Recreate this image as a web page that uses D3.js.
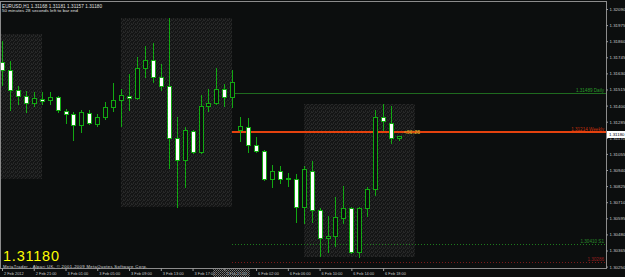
<!DOCTYPE html>
<html>
<head>
<meta charset="utf-8">
<script src="https://cdn.jsdelivr.net/npm/d3@7"></script>
<style>
  html, body { margin: 0; padding: 0; background: #0c0e0e; overflow: hidden; }
  svg { display: block; }
  text { font-family: "Liberation Sans", Arial, sans-serif; }
</style>
</head>
<body>
<div id="graph"></div>
<script>
///////////// data ////////////
// EURUSD H1 bars, 2 Feb 17:00 .. 6 Feb 20:00
var opens  = [1.31708, 1.31651, 1.31508, 1.31472, 1.31422, 1.31444, 1.31437, 1.31458, 1.31358, 1.31337,
              1.31258, 1.31344, 1.31272, 1.31315, 1.31387, 1.31437, 1.31472, 1.31451, 1.31665, 1.31729,
              1.31601, 1.31537, 1.31172, 1.31008, 1.31222, 1.31065, 1.31394, 1.31422, 1.31515, 1.31458,
              1.31229, 1.31247, 1.31122, 1.31079, 1.30879, 1.30936, 1.30879, 1.30879, 1.30679, 1.30936,
              1.30651, 1.30451, 1.30465, 1.30594, 1.30672, 1.30351, 1.30672, 1.30801, 1.31315, 1.31279,
              1.31168]
var highs  = [1.31858, 1.31715, 1.31537, 1.31501, 1.31494, 1.31494, 1.31494, 1.31465, 1.31379, 1.31351,
              1.31365, 1.31365, 1.31337, 1.31429, 1.31558, 1.31515, 1.31629, 1.31744, 1.31829, 1.31844,
              1.31694, 1.32029, 1.31322, 1.31244, 1.31229, 1.31479, 1.31522, 1.31672, 1.31551, 1.31651,
              1.31315, 1.31311, 1.31179, 1.31086, 1.30979, 1.30972, 1.30922, 1.30908, 1.30965, 1.31001,
              1.30672, 1.30615, 1.30744, 1.30829, 1.30679, 1.30679, 1.30822, 1.31372, 1.31415, 1.31394,
              1.31181]
var lows   = [1.31544, 1.31365, 1.31408, 1.31351, 1.31394, 1.31415, 1.31408, 1.31351, 1.31279, 1.31151,
              1.31215, 1.31265, 1.31251, 1.31301, 1.31358, 1.31251, 1.31365, 1.31444, 1.31601, 1.31565,
              1.31508, 1.30951, 1.30679, 1.30822, 1.31058, 1.31062, 1.31358, 1.31408, 1.31394, 1.31387,
              1.31144, 1.31065, 1.31065, 1.30865, 1.30822, 1.30844, 1.30829, 1.30572, 1.30558, 1.30572,
              1.30329, 1.30351, 1.30394, 1.30565, 1.30347, 1.30315, 1.30615, 1.30758, 1.31229, 1.31136,
              1.31157]
var closes = [1.31651, 1.31508, 1.31472, 1.31422, 1.31451, 1.31433, 1.31458, 1.31365, 1.31337, 1.31258,
              1.31351, 1.31279, 1.31322, 1.31387, 1.31437, 1.31479, 1.31451, 1.31665, 1.31729, 1.31601,
              1.31537, 1.31172, 1.31008, 1.31229, 1.31065, 1.31394, 1.31422, 1.31522, 1.31458, 1.31572,
              1.31251, 1.31122, 1.31079, 1.30879, 1.30936, 1.30879, 1.30881, 1.30679, 1.30944, 1.30651,
              1.30451, 1.30465, 1.30601, 1.30672, 1.30351, 1.30672, 1.30801, 1.31315, 1.31287, 1.31168,
              1.31180]

// time axis, one label every 4 bars
var tickIdx    = [0, 4, 8, 12, 16, 20, 24, 28, 32, 36, 40, 44, 48]
var tickLabels = ['2 Feb 2012', '2 Feb 21:00', '3 Feb 01:00', '3 Feb 05:00', '3 Feb 09:00', '3 Feb 13:00',
                  '3 Feb 17:00', '3 Feb 21:00', '6 Feb 02:00', '6 Feb 06:00', '6 Feb 10:00', '6 Feb 14:00',
                  '6 Feb 18:00']

// price axis
var priceTicks = [1.32090, 1.31975, 1.31860, 1.31745, 1.31630, 1.31515, 1.31400, 1.31285, 1.31170,
                  1.31055, 1.30940, 1.30825, 1.30710, 1.30595, 1.30480, 1.30365, 1.30250]

// session boxes (08:00 - 22:00), bar index + high/low
var sessStart = [-9, 15, 38]
var sessEnd   = [5, 29, 52]
var sessHigh  = [1.31908, 1.32029, 1.31415]
var sessLow   = [1.30879, 1.30679, 1.30315]

// horizontal levels
var levelValues = [1.31489, 1.31214, 1.30410, 1.30286]
var levelNames  = ['Daily', 'Weekly', 'S1', '']
var levelFrom   = 29

var symbol = 'EURUSD,H1'
var timeLeft = '50 minutes 28 seconds left to bar end'
var countdown = '<50:28'
var copyright = 'MetaTrader - Alpari UK, \u00a9 2001-2009 MetaQuotes Software Corp.'

///////////// drawing ////////////
var bg = '#0c0e0e'
var green = '#12a812'
var fmt = d3.format('.5f')
var last = closes.length - 1

var x = d3.scaleLinear().domain([0, 50]).range([2, 399])
var y = d3.scaleLinear().domain([1.30240, 1.32140]).range([268, 2])
function cx(i){ return Math.round(x(i)) }
function cy(v){ return Math.round(y(v)) }

var svg = d3.select('#graph').append('svg')
    .attr('width', 625)
    .attr('height', 277)
    .style('background', bg)

var defs = svg.append('defs')

// noisy dark fill of the session boxes
var dots = defs.append('pattern')
    .attr('id', 'dots')
    .attr('width', 4).attr('height', 4)
    .attr('patternUnits', 'userSpaceOnUse')
dots.append('rect').attr('width', 4).attr('height', 4).attr('fill', '#141515')
var dotPix = [[0, 0], [2, 1], [1, 2], [3, 3], [3, 0], [1, 3]]
dotPix.forEach(function(p){
  dots.append('rect').attr('x', p[0]).attr('y', p[1]).attr('width', 1).attr('height', 1).attr('fill', '#272828')
})

var grey = defs.append('pattern')
    .attr('id', 'grey')
    .attr('width', 2).attr('height', 2)
    .attr('patternUnits', 'userSpaceOnUse')
grey.append('rect').attr('width', 1).attr('height', 1).attr('fill', '#7a7a7a')
grey.append('rect').attr('x', 1).attr('y', 1).attr('width', 1).attr('height', 1).attr('fill', '#5e5e5e')

defs.append('clipPath').attr('id', 'clip')
  .append('rect').attr('x', 1).attr('y', 2).attr('width', 605).attr('height', 266)

var plot = svg.append('g').attr('clip-path', 'url(#clip)')

// session boxes
plot.selectAll('rect.sess')
    .data(sessStart)
  .enter().append('rect')
    .attr('class', 'sess')
    .attr('x', function(d){ return cx(d) })
    .attr('width', function(d, i){ return cx(sessEnd[i]) - cx(d) })
    .attr('y', function(d, i){ return cy(sessHigh[i]) })
    .attr('height', function(d, i){ return cy(sessLow[i]) - cy(sessHigh[i]) })
    .attr('fill', 'url(#dots)')

// levels
var levelStroke = ['#1f6a1f', '#e5420e', '#1d7a1d', '#7a1a1a']
var levelWidth  = [1, 2, 1, 1]
var levelDash   = [null, null, '1,2', '1,2']
var levelText   = ['#2a9a2a', '#c8300c', '#2a8a2a', '#9a2020']

plot.selectAll('line.level')
    .data(levelValues)
  .enter().append('line')
    .attr('class', 'level')
    .attr('x1', cx(levelFrom))
    .attr('x2', 606)
    .attr('y1', function(d, i){ return cy(d) + (levelWidth[i] == 1 ? .5 : 0) })
    .attr('y2', function(d, i){ return cy(d) + (levelWidth[i] == 1 ? .5 : 0) })
    .attr('stroke', function(d, i){ return levelStroke[i] })
    .attr('stroke-width', function(d, i){ return levelWidth[i] })
    .attr('stroke-dasharray', function(d, i){ return levelDash[i] })

svg.selectAll('text.level')
    .data(levelValues)
  .enter().append('text')
    .attr('class', 'level')
    .attr('x', 604)
    .attr('y', function(d){ return cy(d) - 1.5 })
    .attr('text-anchor', 'end')
    .style('font-size', '4.6px')
    .attr('fill', function(d, i){ return levelText[i] })
    .text(function(d, i){ return fmt(d) + (levelNames[i] ? ' ' + levelNames[i] : '') })

// candles
var bars = plot.selectAll('g.bar')
    .data(d3.range(opens.length))
  .enter().append('g')
    .attr('class', 'bar')
    .attr('shape-rendering', 'crispEdges')

bars.append('line')
    .attr('x1', function(i){ return cx(i) + .5 })
    .attr('x2', function(i){ return cx(i) + .5 })
    .attr('y1', function(i){ return cy(highs[i]) })
    .attr('y2', function(i){ return cy(lows[i]) + 1 })
    .attr('stroke', green)

bars.append('rect')
    .attr('x', function(i){ return cx(i) - 1.5 })
    .attr('width', 4)
    .attr('y', function(i){ return cy(Math.max(opens[i], closes[i])) + .5 })
    .attr('height', function(i){ return Math.max(1, cy(Math.min(opens[i], closes[i])) - cy(Math.max(opens[i], closes[i]))) })
    .attr('fill', function(i){ return closes[i] >= opens[i] ? bg : '#ffffff' })
    .attr('stroke', green)

// bar countdown next to last candle
svg.append('text')
    .attr('x', cx(last) + 5)
    .attr('y', cy(closes[last]) - 2)
    .attr('fill', '#c9a227')
    .style('font-size', '5px')
    .style('font-weight', 'bold')
    .attr('textLength', 16)
    .text(countdown)

// frame
svg.append('rect')
    .attr('x', .5).attr('y', 1.5)
    .attr('width', 606).attr('height', 267)
    .attr('fill', 'none')
    .attr('stroke', '#8c8c8c')

// price axis
var yAxis = svg.append('g')
    .attr('transform', 'translate(606,0)')
    .call(d3.axisRight(y).tickValues(priceTicks).tickSize(2).tickPadding(1.5).tickFormat(fmt))
yAxis.attr('font-family', null).attr('font-size', null)
yAxis.select('.domain').remove()
yAxis.selectAll('line').attr('stroke', '#9a9a9a')
yAxis.selectAll('text').attr('fill', '#c8c8c8').style('font-size', '4.4px')

// current price box
svg.append('rect')
    .attr('x', 607).attr('y', cy(closes[last]) - 5)
    .attr('width', 18).attr('height', 7)
    .attr('fill', '#ffffff')
svg.append('text')
    .attr('x', 609).attr('y', cy(closes[last]) - 1.5)
    .attr('dy', '.35em')
    .attr('fill', '#000')
    .style('font-size', '4.4px')
    .text(fmt(closes[last]))

// time axis
var xAxis = svg.append('g')
    .attr('transform', 'translate(0,268)')
    .call(d3.axisBottom(x).tickValues(tickIdx).tickSize(3).tickFormat(function(d, i){ return tickLabels[i] }))
xAxis.attr('font-family', null).attr('font-size', null)
xAxis.select('.domain').remove()
xAxis.selectAll('line').attr('stroke', '#9a9a9a')
xAxis.selectAll('text')
    .attr('text-anchor', 'start')
    .attr('x', 1.5)
    .attr('y', 7)
    .attr('dy', null)
    .attr('fill', '#c8c8c8')
    .style('font-size', '3.9px')

// greyed block over the friday close label
svg.append('rect')
    .attr('x', 213).attr('y', 269)
    .attr('width', 37).attr('height', 8)
    .attr('fill', 'url(#grey)')

// header
svg.append('text')
    .attr('x', 2).attr('y', 7.5)
    .attr('fill', '#e0e0e0')
    .style('font-size', '4.6px')
    .attr('textLength', 100)
    .text(symbol + '  ' + [opens[last], highs[last], lows[last], closes[last]].map(fmt).join(' '))
svg.append('text')
    .attr('x', 2).attr('y', 11.5)
    .attr('fill', '#e0e0e0')
    .style('font-size', '4.4px')
    .attr('textLength', 76)
    .text(timeLeft)

// big price + copyright
svg.append('text')
    .attr('x', 3).attr('y', 260.5)
    .attr('fill', '#ffff00')
    .style('font-size', '14.5px')
    .attr('textLength', 56)
    .text(fmt(closes[last]))
svg.append('text')
    .attr('x', 3).attr('y', 267.5)
    .attr('fill', '#d8d8d8')
    .style('font-size', '4.2px')
    .attr('textLength', 144)
    .text(copyright)
</script>
</body>
</html>
